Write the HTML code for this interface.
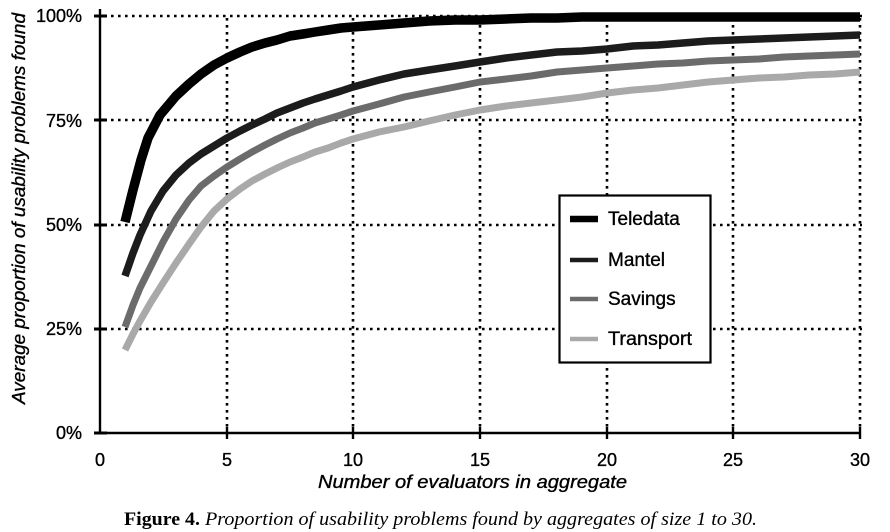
<!DOCTYPE html>
<html>
<head>
<meta charset="utf-8">
<style>
  html,body{margin:0;padding:0;background:#fff;}
  svg{display:block;}
  text{font-family:"Liberation Sans",Arial,sans-serif;fill:#000;}
  .b{stroke:#000;stroke-width:0.35;}
  .serif{font-family:"Liberation Serif","Times New Roman",serif;}
</style>
</head>
<body>
<svg width="890" height="532" viewBox="0 0 890 532" xmlns="http://www.w3.org/2000/svg">
  <rect width="890" height="532" fill="#fff"/>

  <!-- dotted grid -->
  <g stroke="#000" stroke-width="2.6" stroke-dasharray="2.6 4.4" fill="none">
    <line x1="104" y1="16" x2="862" y2="16"/>
    <line x1="104" y1="120" x2="862" y2="120"/>
    <line x1="104" y1="225" x2="862" y2="225"/>
    <line x1="104" y1="329" x2="862" y2="329"/>
    <line x1="227" y1="18" x2="227" y2="431"/>
    <line x1="353" y1="18" x2="353" y2="431"/>
    <line x1="480" y1="18" x2="480" y2="431"/>
    <line x1="607" y1="18" x2="607" y2="431"/>
    <line x1="733" y1="18" x2="733" y2="431"/>
    <line x1="860" y1="18" x2="860" y2="431"/>
  </g>

  <!-- axes -->
  <g stroke="#000" stroke-width="2.4" fill="none">
    <line x1="100" y1="9" x2="100" y2="434"/>
    <line x1="99" y1="433" x2="861" y2="433"/>
    <line x1="94" y1="16" x2="107" y2="16" stroke-width="3"/>
    <line x1="94" y1="120" x2="107" y2="120" stroke-width="3"/>
    <line x1="94" y1="225" x2="107" y2="225" stroke-width="3"/>
    <line x1="94" y1="329" x2="107" y2="329" stroke-width="3"/>
    <line x1="94" y1="433" x2="107" y2="433" stroke-width="3"/>
    <line x1="227" y1="427" x2="227" y2="439"/>
    <line x1="353" y1="427" x2="353" y2="439"/>
    <line x1="480" y1="427" x2="480" y2="439"/>
    <line x1="607" y1="427" x2="607" y2="439"/>
    <line x1="733" y1="427" x2="733" y2="439"/>
    <line x1="860" y1="427" x2="860" y2="439"/>
  </g>

  <!-- series -->
  <g fill="none" stroke-linejoin="round" stroke-linecap="butt">
    <!-- Transport -->
    <polyline stroke="#a9a9a9" stroke-width="7"
      points="125,350 133,334 140,321 151,302 163,283 176,263 189,244 201,227 214,211 227,199 240,189 252,181 265,174 277,168 290,162 303,157 315,152 328,148 341,143 353,139 379,132 404,127 429,121 455,115 480,110 506,106 531,103 557,100 582,97 607,93 633,90 658,88 683,85 708,82 733,80 759,78 784,77 809,75 835,74 860,72"/>
    <!-- Savings -->
    <polyline stroke="#6b6b6b" stroke-width="7"
      points="125,327 133,305 140,288 151,266 163,242 176,219 189,200 201,186 214,176 227,167 240,159 252,152 265,145 277,139 290,133 303,128 315,123 328,119 341,115 353,111 379,104 404,97 429,92 455,87 480,82 506,79 531,76 557,72 582,70 607,68 633,66 658,64 683,63 708,61 733,60 759,59 784,57 809,56 835,55 860,54"/>
    <!-- Mantel -->
    <polyline stroke="#1c1c1c" stroke-width="7.5"
      points="125,276 133,253 140,235 151,211 163,191 176,175 189,163 201,154 214,146 227,138 240,131 252,125 265,119 277,113 290,108 303,103 315,99 328,95 341,91 353,87 379,80 404,74 429,70 455,66 480,62 506,58 531,55 557,52 582,51 607,49 633,46 658,45 683,43 708,41 733,40 759,39 784,38 809,37 835,36 860,35"/>
    <!-- Teledata -->
    <polyline stroke="#000" stroke-width="9.5"
      points="125,222 133,190 141,160 148,138 160,115 176,96 189,84 201,74 214,65 227,58 240,52 252,47 265,43 277,40 290,36 303,34 315,32 328,30 341,28 353,27 379,25 404,23 429,21 455,20 480,20 506,19 531,18 557,18 582,17 607,17 860,17"/>
  </g>

  <!-- legend -->
  <rect x="559.5" y="195.5" width="151" height="167" fill="#fff" stroke="#000" stroke-width="2.2"/>
  <line x1="570" y1="219" x2="598" y2="219" stroke="#000" stroke-width="6.5"/>
  <line x1="570" y1="260" x2="598" y2="260" stroke="#1c1c1c" stroke-width="4.5"/>
  <line x1="570" y1="299" x2="598" y2="299" stroke="#6b6b6b" stroke-width="4.5"/>
  <line x1="570" y1="339" x2="598" y2="339" stroke="#a9a9a9" stroke-width="4.5"/>
  <g font-size="19" class="b">
    <text x="608" y="225" class="b">Teledata</text>
    <text x="608" y="266" class="b">Mantel</text>
    <text x="608" y="305" class="b">Savings</text>
    <text x="608" y="345" class="b" textLength="84" lengthAdjust="spacingAndGlyphs">Transport</text>
  </g>

  <!-- y tick labels -->
  <g font-size="18" text-anchor="end">
    <text x="82" y="22" class="b">100%</text>
    <text x="82" y="127" class="b">75%</text>
    <text x="82" y="231" class="b">50%</text>
    <text x="82" y="335" class="b">25%</text>
    <text x="82" y="439" class="b">0%</text>
  </g>

  <!-- x tick labels -->
  <g font-size="18" text-anchor="middle">
    <text x="100" y="466" class="b">0</text>
    <text x="227" y="466" class="b">5</text>
    <text x="353" y="466" class="b">10</text>
    <text x="480" y="466" class="b">15</text>
    <text x="607" y="466" class="b">20</text>
    <text x="733" y="466" class="b">25</text>
    <text x="860" y="466" class="b">30</text>
  </g>

  <!-- axis titles -->
  <text x="318" y="488" font-size="18" font-style="italic" class="b" textLength="309" lengthAdjust="spacingAndGlyphs">Number of evaluators in aggregate</text>
  <text transform="translate(25,404) rotate(-90)" x="0" y="0" font-size="18" font-style="italic" class="b" textLength="391" lengthAdjust="spacingAndGlyphs">Average proportion of usability problems found</text>

  <!-- caption -->
  <text class="serif" x="124" y="525" font-size="19" font-weight="bold" textLength="76" lengthAdjust="spacingAndGlyphs">Figure 4.</text>
  <text class="serif" x="205" y="525" font-size="19" font-style="italic" textLength="552" lengthAdjust="spacingAndGlyphs">Proportion of usability problems found by aggregates of size 1 to 30.</text>
</svg>
</body>
</html>
